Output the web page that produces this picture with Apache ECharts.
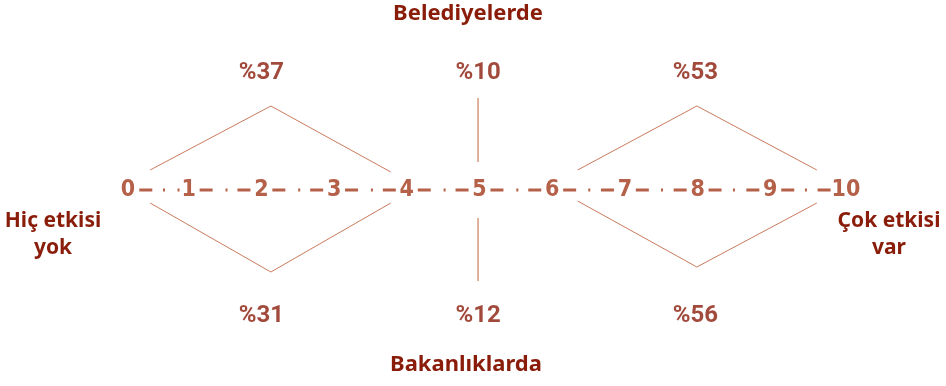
<!DOCTYPE html>
<html>
<head>
<meta charset="utf-8">
<script src="https://cdn.jsdelivr.net/npm/echarts@6/dist/echarts.min.js"></script>
<style>
  html, body { margin: 0; padding: 0; background: #fff; }
  #main { width: 946px; height: 386px; }
</style>
</head>
<body>
<div id="main"></div>
<script>
// scale 0..10
const ticks = [0, 1, 2, 3, 4, 5, 6, 7, 8, 9, 10];
const dots = [0.66, 0.86, 1.52, 2.52, 3.52, 4.52, 5.52, 6.51, 7.51, 8.5, 9.49];
// short dashes on either side of the numbers
const dashes = [
  0.41, 1.24, 1.76, 2.24, 2.76, 3.24, 3.76, 4.24, 4.76, 5.24,
  5.76, 6.24, 6.76, 7.24, 7.76, 8.24, 8.76, 9.24, 9.74,
];

// answer groups (left, middle, right)
const groupX = [2.0, 4.98, 7.97];
const belediyelerde = [37, 10, 53];
const bakanliklarda = [31, 12, 56];

// decorative shapes above / below the scale
const shapesTop = [
  [[0.47, 0.18], [2.13, 0.82], [3.78, 0.16]],
  [[4.98, 0.9], [4.98, 0.26]],
  [[6.35, 0.18], [7.99, 0.82], [9.64, 0.18]],
];
const shapesBottom = [
  [[0.47, -0.15], [2.13, -0.84], [3.78, -0.15]],
  [[4.98, -0.3], [4.98, -0.93]],
  [[6.35, -0.13], [7.99, -0.79], [9.64, -0.15]],
];

const dark = '#8a1c0a';
const axisRed = '#a3381c';
const lineCol = '#c97a5c';
const vlineCol = '#c2603f';
const narrow = '"Liberation Sans Narrow", "DejaVu Sans Condensed", "Roboto Condensed", sans-serif';

const chart = echarts.init(document.getElementById('main'));

const shapeSeries = [...shapesTop, ...shapesBottom].map((pts) => ({
  type: 'line',
  data: pts,
  symbol: 'none',
  silent: true,
  lineStyle: { width: 1, color: pts.length === 2 ? vlineCol : lineCol },
}));

const pctLabel = {
  show: true,
  position: 'inside',
  formatter: (p) => '%' + p.value[2],
  fontFamily: 'Roboto',
  fontWeight: 'bold',
  fontSize: 24,
  color: dark,
};

const options = {
  animation: false,
  grid: { left: 116, right: 103, top: 0, bottom: 0 },
  xAxis: { type: 'value', min: 0, max: 10, show: false },
  yAxis: { type: 'value', min: -1.98, max: 1.88, show: false },
  graphic: [
    {
      type: 'text', x: 468, y: 3,
      style: { text: 'Belediyelerde', align: 'center', font: 'bold 22px "Noto Sans"', fill: dark },
    },
    {
      type: 'text', x: 466, y: 354,
      style: { text: 'Bakanlıklarda', align: 'center', font: 'bold 22px "Noto Sans"', fill: dark },
    },
    {
      type: 'text', x: 53, y: 208,
      style: { text: 'Hiç etkisi\nyok', align: 'center', font: 'bold 21px "Noto Sans"', lineHeight: 27, fill: dark },
    },
    {
      type: 'text', x: 889, y: 208,
      style: { text: 'Çok etkisi\nvar', align: 'center', font: 'bold 21px "Noto Sans"', lineHeight: 27, fill: dark },
    },
  ],
  series: [
    ...shapeSeries,
    {
      type: 'scatter',
      data: dots.map((x) => [x, -0.02]),
      symbol: 'rect',
      symbolSize: [2, 3],
      itemStyle: { color: axisRed },
      silent: true,
    },
    {
      type: 'scatter',
      data: dashes.map((x) => [x, -0.02]),
      symbol: 'rect',
      symbolSize: [13, 3],
      itemStyle: { color: axisRed },
      silent: true,
    },
    {
      type: 'scatter',
      data: ticks.map((t, i) => ({
        value: [t, 0],
        label: i === 0 ? { offset: [12, 2] } : i === 10 ? { offset: [3, 2] } : {},
      })),
      symbolSize: 1,
      itemStyle: { color: 'transparent' },
      silent: true,
      label: {
        show: true,
        position: 'inside',
        offset: [0, 2],
        formatter: (p) => String(ticks[p.dataIndex]),
        fontFamily: narrow,
        fontWeight: 'bold',
        fontSize: 23,
        color: axisRed,
      },
    },
    {
      type: 'scatter',
      data: groupX.map((x, i) => [x, 1.15, belediyelerde[i]]),
      symbolSize: 1,
      itemStyle: { color: 'transparent' },
      silent: true,
      label: pctLabel,
    },
    {
      type: 'scatter',
      data: groupX.map((x, i) => [x, -1.28, bakanliklarda[i]]),
      symbolSize: 1,
      itemStyle: { color: 'transparent' },
      silent: true,
      label: pctLabel,
    },
  ],
};

chart.setOption(options);
</script>
</body>
</html>
